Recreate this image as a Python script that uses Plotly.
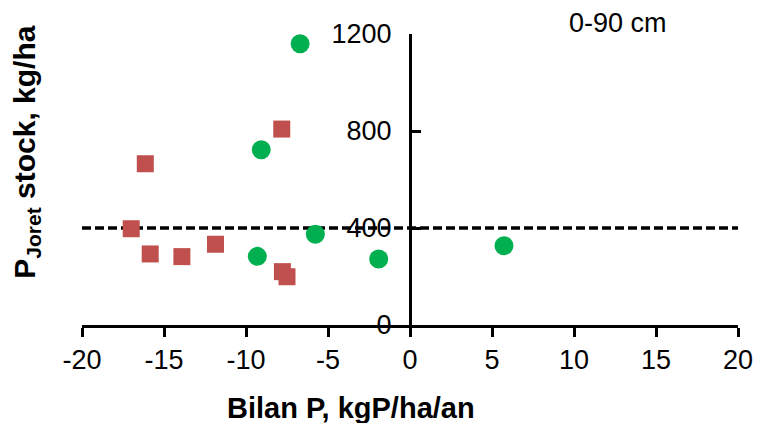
import plotly.graph_objects as go

# Data
green_x = [-6.7, -9.07, -5.77, -9.31, -1.91, 5.73]
green_y = [1160, 723, 374, 283, 272, 327]
red_x = [-7.82, -16.14, -17.0, -15.84, -13.91, -11.86, -7.78, -7.5]
red_y = [808, 665, 397, 293, 282, 333, 220, 199]
threshold = 400
x_range = [-20, 20]
y_range = [0, 1200]
x_ticks = [-20, -15, -10, -5, 0, 5, 10, 15, 20]
y_ticks = [0, 400, 800, 1200]

FONT = "Liberation Sans, Arial, sans-serif"

fig = go.Figure()
fig.add_trace(go.Scatter(
    x=x_range, y=[threshold, threshold], mode="lines",
    line=dict(color="black", width=3.5, dash="9px,4px"),
    hoverinfo="skip", showlegend=False, cliponaxis=False))
fig.add_trace(go.Scatter(
    x=red_x, y=red_y, mode="markers",
    marker=dict(symbol="square", size=17, color="#C0504D", line=dict(width=0)),
    showlegend=False, cliponaxis=False))
fig.add_trace(go.Scatter(
    x=green_x, y=green_y, mode="markers",
    marker=dict(symbol="circle", size=19, color="#00B050", line=dict(width=0)),
    showlegend=False, cliponaxis=False))

fig.update_layout(
    width=765, height=423,
    margin=dict(l=82, r=19, t=34, b=98),
    paper_bgcolor="white", plot_bgcolor="white",
    font=dict(family=FONT, size=27, color="black"),
    xaxis=dict(
        range=x_range, tickvals=x_ticks, ticktext=[str(v) for v in x_ticks],
        showgrid=False, zeroline=False, showline=True, linecolor="black", linewidth=3,
        ticks="outside", ticklen=9, tickwidth=3, tickcolor="black",
        tickfont=dict(size=27, family=FONT), anchor="y",
    ),
    yaxis=dict(
        range=y_range, tickvals=y_ticks, ticktext=[str(v) for v in y_ticks],
        showgrid=False, zeroline=False, showline=True, linecolor="black", linewidth=3,
        ticks="inside", ticklen=9, tickwidth=3, tickcolor="black",
        tickfont=dict(size=27, family=FONT),
        anchor="free", position=0.5, side="left", ticklabelstandoff=12,
    ),
    annotations=[
        dict(text="<b>Bilan P, kgP/ha/an</b>", xref="paper", yref="paper",
             x=(354 - 82) / (746 - 82), y=-(408 - 325) / (325 - 34),
             xanchor="center", yanchor="middle", showarrow=False,
             font=dict(size=29, family=FONT)),
        dict(text="<b>P<sub>Joret</sub> stock, kg/ha</b>", xref="paper", yref="paper",
             x=-(82 - 25) / (746 - 82), y=(325 - 152) / (325 - 34),
             xanchor="center", yanchor="middle", textangle=-90, showarrow=False,
             font=dict(size=30, family=FONT)),
        dict(text="0-90 cm", xref="paper", yref="paper",
             x=(625 - 82) / (746 - 82), y=(325 - 23) / (325 - 34),
             xanchor="center", yanchor="middle", showarrow=False,
             font=dict(size=27, family=FONT)),
    ],
)

fig.write_html("out.html")
